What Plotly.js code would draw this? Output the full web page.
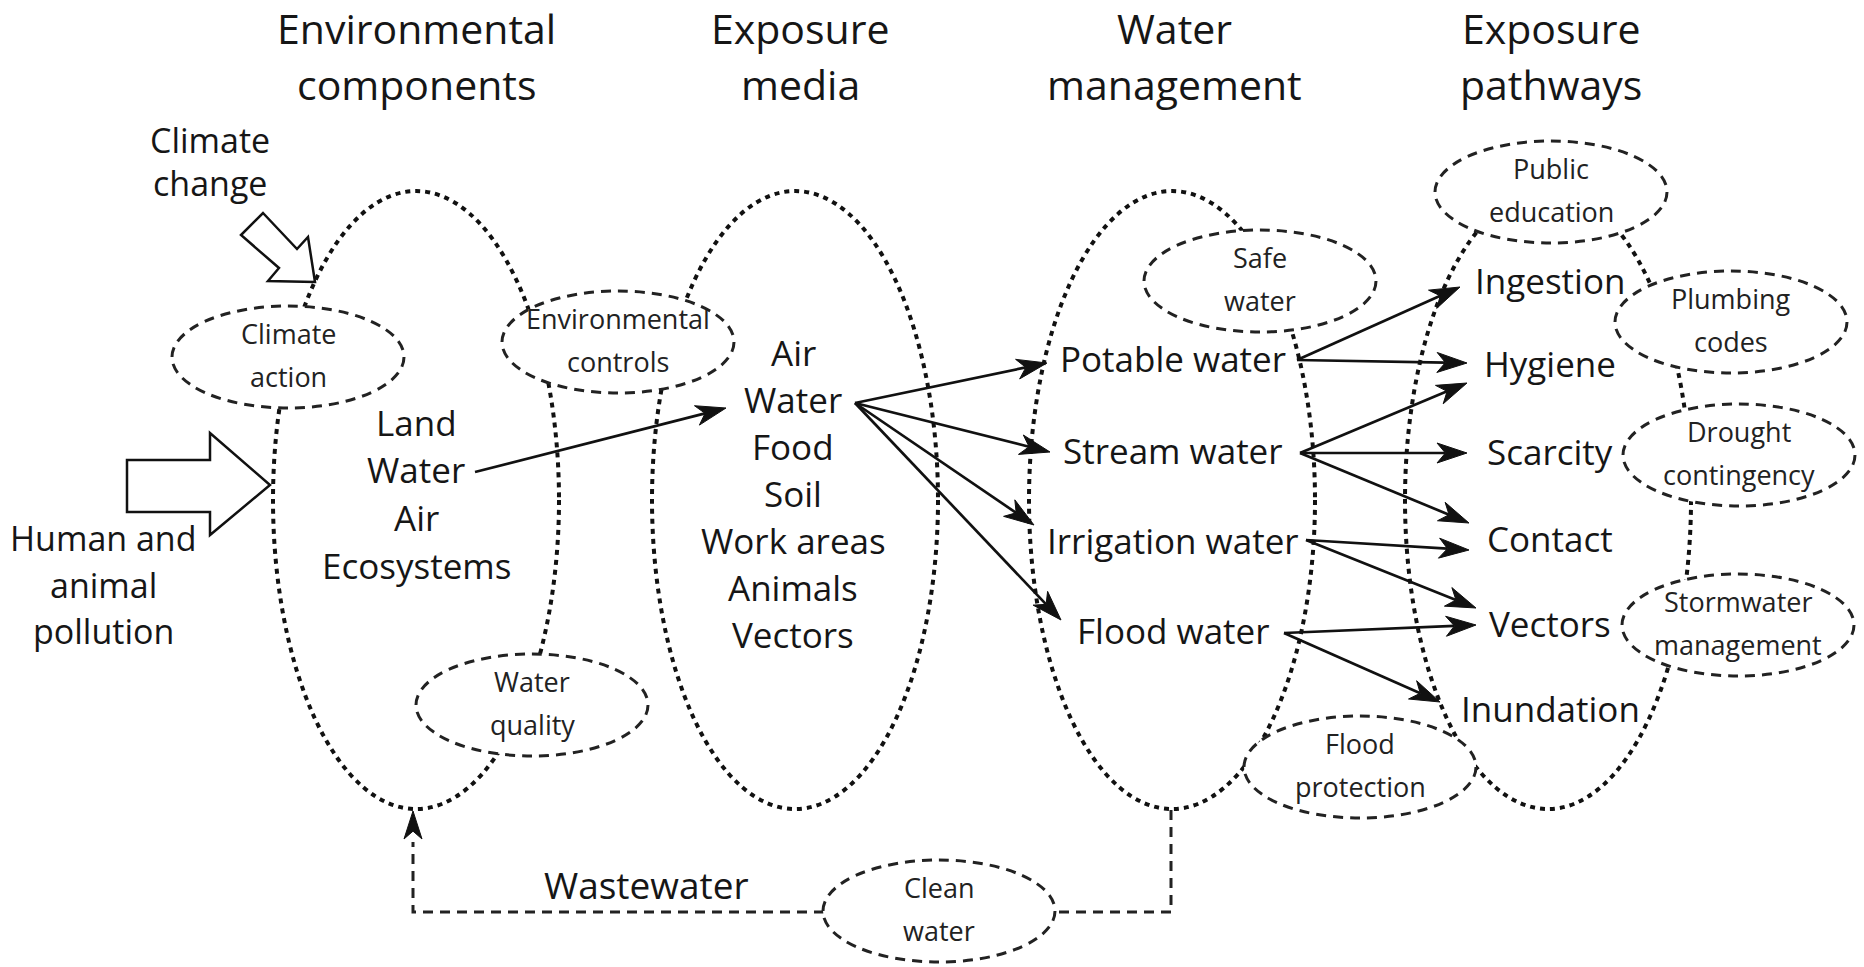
<!DOCTYPE html>
<html>
<head>
<meta charset="utf-8">
<script src="https://cdn.plot.ly/plotly-3.0.1.min.js"></script>
<style>html,body{margin:0;padding:0;background:#fff;}#chart{width:1864px;height:967px;}</style>
</head>
<body>
<div id="chart"></div>
<script>
// ---------------- DATA ----------------
const columnTitles = ["Environmental<br>components", "Exposure<br>media", "Water<br>management", "Exposure<br>pathways"];
const drivers = ["Climate<br>change", "Human and<br>animal<br>pollution"];
const environmentalComponents = ["Land", "Water", "Air", "Ecosystems"];
const exposureMedia = ["Air", "Water", "Food", "Soil", "Work areas", "Animals", "Vectors"];
const waterManagement = ["Potable water", "Stream water", "Irrigation water", "Flood water"];
const exposurePathways = ["Ingestion", "Hygiene", "Scarcity", "Contact", "Vectors", "Inundation"];
const controls = ["Climate<br>action", "Environmental<br>controls", "Water<br>quality", "Safe<br>water",
                  "Public<br>education", "Plumbing<br>codes", "Drought<br>contingency",
                  "Stormwater<br>management", "Flood<br>protection", "Clean<br>water"];
const returnFlowLabel = "Wastewater";
// links: [from, to]
const links = [
  ["Environmental:Water", "Media:Water"],
  ["Media:Water", "Potable water"], ["Media:Water", "Stream water"],
  ["Media:Water", "Irrigation water"], ["Media:Water", "Flood water"],
  ["Potable water", "Ingestion"], ["Potable water", "Hygiene"],
  ["Stream water", "Hygiene"], ["Stream water", "Scarcity"], ["Stream water", "Contact"],
  ["Irrigation water", "Contact"], ["Irrigation water", "Vectors"],
  ["Flood water", "Vectors"], ["Flood water", "Inundation"]
];

// ---------------- LAYOUT GEOMETRY (diagram units = pixels) ----------------
const W = 1864, H = 967;
const colX = [416, 795, 1172, 1548];          // centres of the four loops
const loopCY = 500, loopRX = 143, loopRY = 309;
const titleX = [416, 800, 1174, 1551], titleY1 = 28, titleLS = 56;
const envListX = 416, envListY0 = 422, envListDY = 47.7;
const mediaListX = 793, mediaListY0 = 352, mediaListDY = 47;
const waterX = 1173, waterY = [358, 450, 540, 630];
const pathX = 1550, pathY = [280, 363, 451, 538, 623, 708];
const ctrlPos = [[288,357],[618,342],[532,705],[1260,281],[1551,192],[1731,322],[1739,455],[1738,625],[1360,767],[939,911]];
const ctrlRX = 116, ctrlRY = 51, ctrlLS = 43, ctrlTextDY = -2;
const driverPos = [[210,140,43],[103,538,46.5]];
// arrow start / tip per link (same order as links)
const linkGeom = [
  [475,472, 726,408],
  [855,403, 1047,363],[855,403, 1050,452],[855,403, 1034,525],[855,403, 1061,620],
  [1297,360, 1460,287],[1297,360, 1467,363],
  [1300,453, 1467,383],[1300,453, 1467,453],[1300,453, 1469,523],
  [1306,540, 1469,550],[1306,540, 1476,608],
  [1284,633, 1476,625],[1284,633, 1440,702]
];
const climateArrow = [[263,213],[297,249],[308,237],[315,282],[268,281],[279,268],[241,235]];
const pollutionArrow = [[127,460],[210,460],[210,433],[270,485],[210,535],[210,512],[127,512]];
const wastewaterPath = [[1171,810],[1171,912],[1054,912]];
const wastewaterPath2 = [[824,912],[413,912],[413,842]];
const wastewaterTip = [413,811];
const wastewaterText = [646,884];

// ---------------- STYLES ----------------
const FONT = "Open Sans, Noto Sans, sans-serif";
const INK = "#161616";
const loopLine = {color: "#111111", width: 4, dash: "5px,5px"};
const ctrlLine = {color: "#222222", width: 3, dash: "10px,7px"};

const shapes = [];
const annotations = [];

function pathFrom(pts, close) {
  return "M" + pts.map(p => p[0] + "," + p[1]).join(" L") + (close ? " Z" : "");
}
function head(x0, y0, x1, y1, L, Wd) {
  const len = Math.hypot(x1 - x0, y1 - y0);
  const dx = (x1 - x0) / len, dy = (y1 - y0) / len;
  const nx = -dy, ny = dx;
  const A = [x1 - L*dx + Wd*nx, y1 - L*dy + Wd*ny];
  const B = [x1 - L*dx - Wd*nx, y1 - L*dy - Wd*ny];
  const N = [x1 - 0.72*L*dx, y1 - 0.72*L*dy];
  return {path: pathFrom([[x1,y1], A, N, B], true), notch: N};
}

// big dotted loops
colX.forEach(cx => {
  shapes.push({type: "circle", xref: "x", yref: "y", x0: cx - loopRX, x1: cx + loopRX,
    y0: loopCY - loopRY, y1: loopCY + loopRY, line: loopLine, fillcolor: "rgba(0,0,0,0)"});
});

// wastewater return path
shapes.push({type: "path", path: pathFrom(wastewaterPath), line: ctrlLine});
shapes.push({type: "path", path: pathFrom(wastewaterPath2), line: ctrlLine});
{
  const h = head(wastewaterPath2[2][0], wastewaterPath2[2][1], wastewaterTip[0], wastewaterTip[1], 28, 9);
  shapes.push({type: "path", path: h.path, fillcolor: "#111", line: {color: "#111", width: 1}});
}

// solid link arrows
linkGeom.forEach(g => {
  const h = head(g[0], g[1], g[2], g[3], 30, 10);
  shapes.push({type: "line", x0: g[0], y0: g[1], x1: h.notch[0], y1: h.notch[1], line: {color: "#111", width: 2.7}});
  shapes.push({type: "path", path: h.path, fillcolor: "#111", line: {color: "#111", width: 1}});
});

// control ellipses (white fill hides loop lines)
controls.forEach((lab, i) => {
  const [cx, cy] = ctrlPos[i];
  shapes.push({type: "circle", x0: cx - ctrlRX, x1: cx + ctrlRX, y0: cy - ctrlRY, y1: cy + ctrlRY,
    line: ctrlLine, fillcolor: "#ffffff"});
  const lines = lab.split("<br>");
  lines.forEach((t, k) => {
    annotations.push({x: cx, y: cy + ctrlTextDY + (k - (lines.length - 1) / 2) * ctrlLS, text: t, showarrow: false,
      xanchor: "center", yanchor: "middle", font: {family: FONT, size: 27, color: "#222"}});
  });
});

// hollow driver arrows
shapes.push({type: "path", path: pathFrom(climateArrow, true), fillcolor: "#fff", line: {color: "#111", width: 2.5}});
shapes.push({type: "path", path: pathFrom(pollutionArrow, true), fillcolor: "#fff", line: {color: "#111", width: 2.5}});

// text helpers
function addLines(label, x, y0, ls, size) {
  label.split("<br>").forEach((t, k) => {
    annotations.push({x: x, y: y0 + k * ls, text: t, showarrow: false, xanchor: "center", yanchor: "middle",
      font: {family: FONT, size: size, color: INK}});
  });
}
columnTitles.forEach((t, i) => addLines(t, titleX[i], titleY1, titleLS, 41));
drivers.forEach((t, i) => addLines(t, driverPos[i][0], driverPos[i][1], driverPos[i][2], 34));
environmentalComponents.forEach((t, i) => addLines(t, envListX, envListY0 + i * envListDY, 0, 35));
exposureMedia.forEach((t, i) => addLines(t, mediaListX, mediaListY0 + i * mediaListDY, 0, 35));
waterManagement.forEach((t, i) => addLines(t, waterX, waterY[i], 0, 35));
exposurePathways.forEach((t, i) => addLines(t, pathX, pathY[i], 0, 35));
addLines(returnFlowLabel, wastewaterText[0], wastewaterText[1], 0, 37);

const layout = {
  width: W, height: H,
  margin: {l: 0, r: 0, t: 0, b: 0, pad: 0},
  paper_bgcolor: "#ffffff", plot_bgcolor: "#ffffff",
  xaxis: {range: [0, W], visible: false, fixedrange: true},
  yaxis: {range: [H, 0], visible: false, fixedrange: true},
  showlegend: false,
  shapes: shapes.map(s => Object.assign({xref: "x", yref: "y"}, s)),
  annotations: annotations
};
Plotly.newPlot("chart", [], layout, {displayModeBar: false, staticPlot: true});
</script>
</body>
</html>
